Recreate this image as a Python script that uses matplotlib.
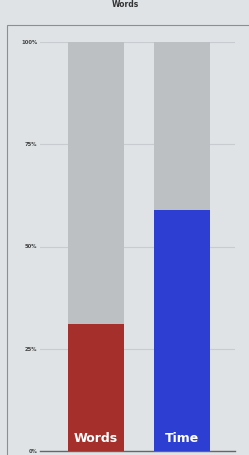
import matplotlib.pyplot as plt
from matplotlib.patches import Rectangle

categories = ['Words', 'Time']
values = [31, 59]
totals = [100, 100]
colors = ['#a5302b', '#2c3fd2']
tick_vals = [0, 25, 50, 75, 100]
tick_labels = ['0%', '25%', '50%', '75%', '100%']

W, H = 249, 455
fig = plt.figure(figsize=(W / 100, H / 100), dpi=100)
fig.patch.set_facecolor('#dfe3e6')

# frame of the chart panel
fig.patches.append(Rectangle((7 / W, -0.01), 1.0, (H - 25) / H + 0.01,
                             transform=fig.transFigure, fill=False,
                             edgecolor='#8a8f94', linewidth=0.8))
fig.text(125 / W, 1.0, 'Words', ha='center', va='top',
         fontsize=5.5, fontweight='bold', color='#333333')

ax = fig.add_axes([40 / W, 4 / H, 195 / W, 409 / H])
ax.set_facecolor('#dfe3e6')
x = range(len(categories))
ax.bar(x, totals, width=0.65, color='#bcc0c3', zorder=2)
ax.bar(x, values, width=0.65, color=colors, zorder=3)
for i, c in enumerate(categories):
    ax.text(i, 1.5, c, ha='center', va='bottom', color='white',
            fontsize=9, fontweight='bold', zorder=4)

ax.set_xlim(-0.645, 1.62)
ax.set_ylim(0, 100)
ax.set_yticks(tick_vals)
ax.set_yticklabels(tick_labels, fontsize=3.8, fontweight='bold', color='#444444')
ax.tick_params(axis='y', length=0, pad=2)
ax.set_xticks([])
ax.grid(axis='y', color='#c8ccd0', linewidth=0.8, zorder=1)
for s in ['top', 'right', 'left']:
    ax.spines[s].set_visible(False)
ax.spines['bottom'].set_color('#666666')
ax.spines['bottom'].set_linewidth(1.0)

fig.savefig('out.png', dpi=100, facecolor=fig.get_facecolor())
